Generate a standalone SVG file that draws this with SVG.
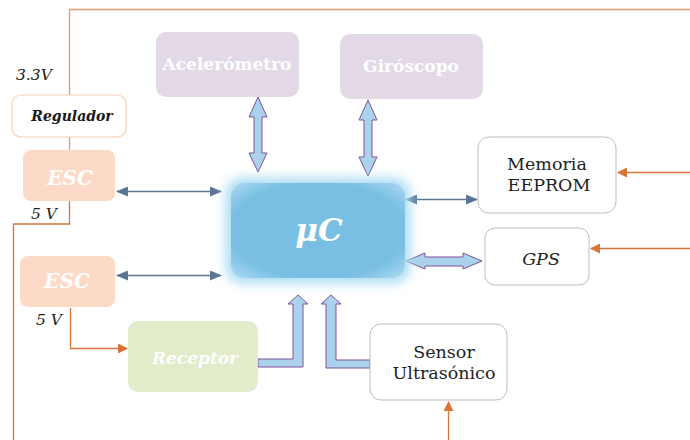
<svg xmlns="http://www.w3.org/2000/svg" width="690" height="440" viewBox="0 0 690 440">
<defs>
<style>
.pw{fill:none;stroke:#d9733a;stroke-width:1.3}
.pwl{fill:none;stroke:#e39a73;stroke-width:1.3}
.sig{fill:none;stroke:#5b7595;stroke-width:1.3}
.blk{fill:#aad2ec;stroke:#80519a;stroke-width:1}
.wb{fill:#fff;font-family:"DejaVu Serif",serif;font-weight:bold;text-anchor:middle}
.wbi{fill:#fff;font-family:"DejaVu Serif",serif;font-weight:bold;font-style:italic;text-anchor:middle}
.lbl{fill:#222;font-family:"DejaVu Serif",serif;font-size:17.5px;text-anchor:middle}
.vi{fill:#222;font-family:"DejaVu Serif",serif;font-style:italic;font-size:15.5px}
.wbox{fill:#fff;stroke:#bdbdbd;stroke-width:1}
</style>
<marker id="ao" markerWidth="10" markerHeight="10" refX="9" refY="5" orient="auto" markerUnits="userSpaceOnUse">
<path d="M0,0 L10,5 L0,10 Z" fill="#d9733a"/>
</marker>
<marker id="ab" markerWidth="12" markerHeight="10" refX="11" refY="5" orient="auto-start-reverse" markerUnits="userSpaceOnUse">
<path d="M0,0 L12,5 L0,10 Z" fill="#5b7595"/>
</marker>
<filter id="glow" x="-20%" y="-30%" width="140%" height="160%">
<feGaussianBlur stdDeviation="6"/>
</filter>
<radialGradient id="ucg" cx="50%" cy="50%" r="65%">
<stop offset="0.78" stop-color="#79bfe3"/>
<stop offset="1" stop-color="#a0d3ee"/>
</radialGradient>
</defs>

<g id="connectors">
<path class="pwl" d="M690,9.5 H69.5 V95"/>
<path class="pwl" d="M69.5,137 V150"/>
<path class="pw" d="M69.5,201 V224 H13.5 V440"/>
<path class="pw" d="M70.5,308 V348.5 H127" marker-end="url(#ao)"/>
<path class="pw" d="M690,172.5 H618" marker-end="url(#ao)"/>
<path class="pw" d="M690,248.5 H591" marker-end="url(#ao)"/>
<path class="pw" d="M448.5,440 V402" marker-end="url(#ao)"/>
<path class="sig" d="M117,191.5 H221" marker-start="url(#ab)" marker-end="url(#ab)"/>
<path class="sig" d="M117,275.5 H221" marker-start="url(#ab)" marker-end="url(#ab)"/>
<path class="sig" d="M406,199.5 H477" marker-start="url(#ab)" marker-end="url(#ab)"/>
<path class="blk" d="M258,97 L267,117 L262,117 L262,153 L267,153 L258,172 L249,153 L254,153 L254,117 L249,117 Z"/>
<path class="blk" d="M368,100 L377,120 L372,120 L372,157 L377,157 L368,176 L359,157 L364,157 L364,120 L359,120 Z"/>
<path class="blk" d="M406,261 L425,253 L425,257 L463,257 L463,253 L482,261 L463,269 L463,266 L425,266 L425,269 Z"/>
<path class="blk" d="M258,359 L293,359 L293,304 L288,304 L298,295 L308,304 L303,304 L303,367 L258,367 Z"/>
<path class="blk" d="M370,360 L336,360 L336,304 L341,304 L331,295 L321,304 L326,304 L326,368 L370,368 Z"/>
</g>

<g id="regulador">
<rect x="12" y="95" width="114" height="42" rx="9" fill="#fff" stroke="#f8cfb4" stroke-width="1.2"/>
<text x="72" y="121" font-family="'DejaVu Serif',serif" font-weight="bold" font-style="italic" font-size="14" fill="#1a1a1a" text-anchor="middle">Regulador</text>
</g>
<text id="v33" class="vi" x="16" y="80" font-size="16">3.3V</text>

<g id="esc1">
<rect x="23" y="150" width="92" height="51" rx="8" fill="#fddac7"/>
<text class="wbi" x="70" y="185" font-size="20">ESC</text>
</g>
<text id="v5a" class="vi" x="31" y="219">5 V</text>

<g id="esc2">
<rect x="20" y="256" width="95" height="51" rx="8" fill="#fddac7"/>
<text class="wbi" x="67" y="288" font-size="20">ESC</text>
</g>
<text id="v5b" class="vi" x="36" y="325">5 V</text>

<g id="receptor">
<rect x="128" y="321" width="130" height="71" rx="10" fill="#e2ebca"/>
<text class="wbi" x="195" y="364" font-size="17">Receptor</text>
</g>

<g id="acelerometro">
<rect x="156" y="32" width="143" height="65" rx="10" fill="#e3d9e6"/>
<text class="wb" x="227" y="70" font-size="17">Acelerómetro</text>
</g>

<g id="giroscopo">
<rect x="340" y="34" width="143" height="65" rx="10" fill="#e3d9e6"/>
<text class="wb" x="411" y="72" font-size="17">Giróscopo</text>
</g>

<g id="uc">
<rect x="226" y="178" width="184" height="105" rx="16" fill="#a9dcf3" filter="url(#glow)"/>
<rect x="231" y="183" width="174" height="95" rx="14" fill="url(#ucg)"/>
<text class="wbi" x="319" y="241" font-size="31">μC</text>
</g>

<g id="memoria">
<rect class="wbox" x="478" y="137" width="138" height="76" rx="11"/>
<text class="lbl" x="547" y="170">Memoria</text>
<text class="lbl" x="549" y="191">EEPROM</text>
</g>

<g id="gps">
<rect class="wbox" x="485" y="228" width="104" height="57" rx="10"/>
<text class="lbl" x="541" y="265" font-style="italic">GPS</text>
</g>

<g id="sensor">
<rect class="wbox" x="370" y="324" width="137" height="76" rx="11"/>
<text class="lbl" x="444" y="358">Sensor</text>
<text class="lbl" x="444" y="379">Ultrasónico</text>
</g>
</svg>
